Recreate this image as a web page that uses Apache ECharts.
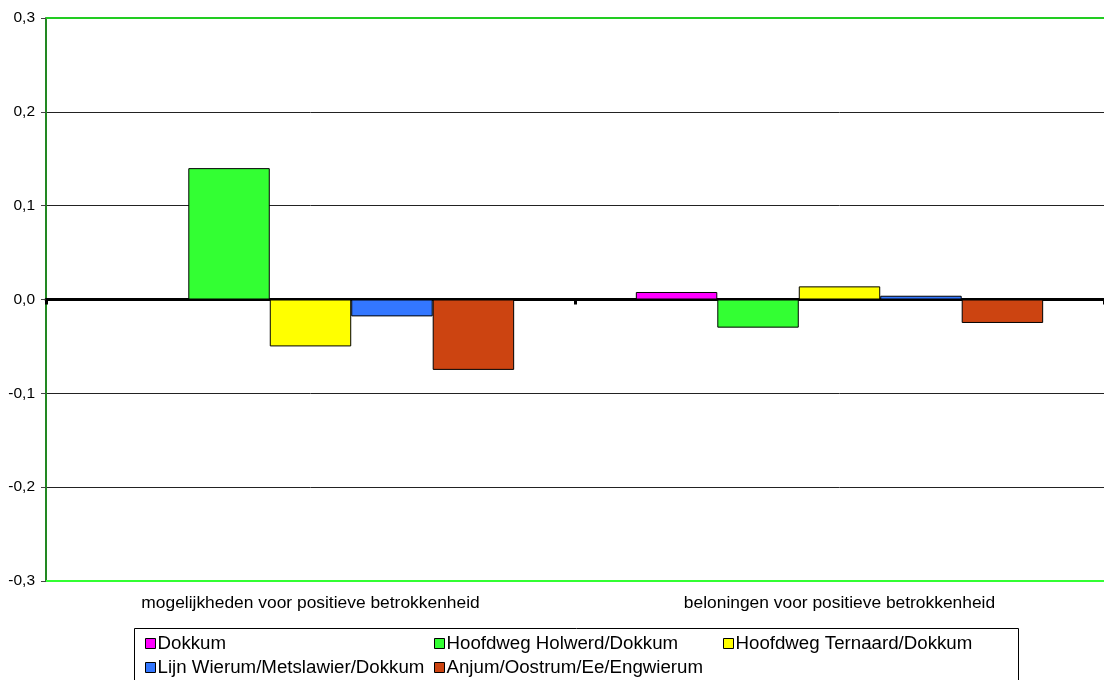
<!DOCTYPE html>
<html>
<head>
<meta charset="utf-8">
<script src="https://cdn.jsdelivr.net/npm/echarts@6/dist/echarts.min.js"></script>
<style>html,body{margin:0;padding:0;background:#fff;}#c{width:1104px;height:680px;}</style>
</head>
<body>
<div id="c"></div>
<script>
const categories = ['mogelijkheden voor positieve betrokkenheid', 'beloningen voor positieve betrokkenheid'];
const seriesNames = ['Dokkum', 'Hoofdweg Holwerd/Dokkum', 'Hoofdweg Ternaard/Dokkum', 'Lijn Wierum/Metslawier/Dokkum', 'Anjum/Oostrum/Ee/Engwierum'];
const dokkum = [0.001, 0.008];
const holwerd = [0.14, -0.030];
const ternaard = [-0.05, 0.014];
const lijn = [-0.018, 0.004];
const anjum = [-0.075, -0.025];
const yTicks = [-0.3, -0.2, -0.1, 0, 0.1, 0.2, 0.3];

const values = [dokkum, holwerd, ternaard, lijn, anjum];
const colors = ['#ff00ff', '#33ff33', '#ffff00', '#3377ff', '#cc4411'];
const font = 'Arial, "Liberation Sans", sans-serif';

const chart = echarts.init(document.getElementById('c'));
const series = seriesNames.map((n, i) => ({
  name: n,
  type: 'bar',
  data: values[i],
  barGap: '0%',
  barCategoryGap: '23%',
  itemStyle: { color: colors[i], borderColor: '#000', borderWidth: 1 },
  emphasis: { disabled: true }
}));
series[0].markLine = {
  silent: true,
  symbol: 'none',
  label: { show: false },
  animation: false,
  data: [
    { yAxis: yTicks[0], lineStyle: { color: '#33ff33', width: 2, type: 'solid' } },
    { yAxis: yTicks[yTicks.length - 1], lineStyle: { color: '#22cc22', width: 2, type: 'solid' } }
  ]
};
const legendPos = [[145, 634], [434, 634], [723, 634], [145, 658], [434, 658]];
const legends = seriesNames.map((n, i) => ({
  data: [n],
  left: legendPos[i][0],
  top: legendPos[i][1],
  icon: 'rect',
  itemWidth: 10,
  itemHeight: 10,
  itemGap: 0,
  padding: 0,
  selectedMode: false,
  itemStyle: { borderColor: '#000', borderWidth: 1 },
  textStyle: { fontSize: 18.7, color: '#000', fontFamily: font, padding: [0, 0, 0, -3] }
}));

chart.setOption({
  animation: false,
  color: colors,
  grid: { left: 46, right: 0, top: 18, bottom: 99, containLabel: false },
  legend: legends,
  xAxis: [{
    type: 'category',
    data: categories,
    axisLine: { onZero: true, lineStyle: { color: '#000', width: 3 } },
    axisTick: { show: true, length: 5, lineStyle: { color: '#000', width: 3 } },
    axisLabel: { show: false },
    splitLine: { show: false }
  }, {
    type: 'category',
    data: categories,
    position: 'bottom',
    axisLine: { show: false, onZero: false },
    axisTick: { show: false },
    axisLabel: { fontSize: 17.4, color: '#000', fontFamily: font, margin: 14 },
    splitLine: { show: false }
  }],
  yAxis: {
    type: 'value',
    min: yTicks[0],
    max: yTicks[yTicks.length - 1],
    interval: 0.1,
    axisLine: { show: true, lineStyle: { color: '#228822', width: 2 } },
    axisTick: { show: true, length: 5, lineStyle: { color: '#444' } },
    axisLabel: {
      fontSize: 15.5, color: '#000', fontFamily: font, margin: 11,
      formatter: v => (Math.abs(v) < 1e-9 ? 0 : v).toFixed(1).replace('.', ',')
    },
    splitLine: { show: true, lineStyle: { color: '#222', width: 1 } }
  },
  graphic: [{
    type: 'rect',
    shape: { x: 134.5, y: 628.5, width: 884, height: 60 },
    style: { fill: 'none', stroke: '#000', lineWidth: 1 },
    z: -1
  }],
  series: series
});
</script>
</body>
</html>
